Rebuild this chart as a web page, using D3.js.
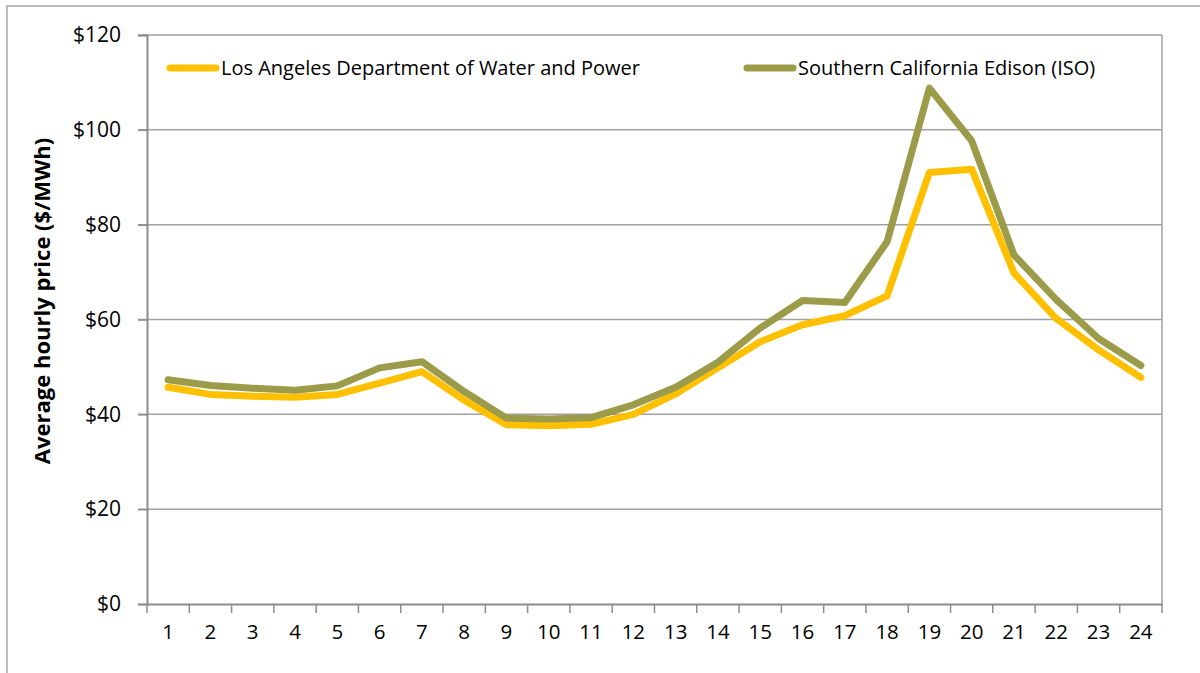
<!DOCTYPE html>
<html>
<head>
<meta charset="utf-8">
<script src="https://cdn.jsdelivr.net/npm/d3@7"></script>
<style>
  html, body { margin: 0; padding: 0; background: #fff; }
  svg { display: block; }
  svg text { font-family: "Open Sans", "Noto Sans", sans-serif; }
</style>
</head>
<body>
<div id="chart"></div>
<script>
const hours = d3.range(1, 25).map(String);
const seriesNames = ['Los Angeles Department of Water and Power', 'Southern California Edison (ISO)'];
const ladwp = [45.7, 44.2, 43.8, 43.6, 44.2, 46.6, 49.0, 43.0, 37.8, 37.6, 37.9, 40.0,
               44.3, 49.8, 55.3, 58.9, 60.8, 65.0, 91.0, 91.7, 69.8, 60.2, 53.6, 47.8];
const sce = [47.3, 46.1, 45.5, 45.1, 46.0, 49.8, 51.1, 44.8, 39.2, 39.0, 39.3, 42.0,
             45.7, 51.0, 58.2, 64.0, 63.6, 76.4, 108.8, 97.7, 73.6, 64.2, 56.0, 50.3];
const yTicks = [0, 20, 40, 60, 80, 100, 120];
const colors = ['#FFC000', '#9B9B4A'];

const svgWidth = 1200, svgHeight = 673;
const margin = { top: 35, right: 38, bottom: 69, left: 147 };
const width = svgWidth - margin.left - margin.right;
const height = svgHeight - margin.top - margin.bottom;

const svg = d3.select('#chart')
    .append('svg')
    .attr('width', svgWidth)
    .attr('height', svgHeight);

// outer chart frame
svg.append('rect')
    .attr('x', 7).attr('y', 6)
    .attr('width', svgWidth).attr('height', svgHeight)
    .style('fill', 'none')
    .style('stroke', '#a6a6a6')
    .style('stroke-width', 1.5);

const bounds = svg.append('g')
    .attr('transform', `translate(${margin.left}, ${margin.top})`);

const xScale = d3.scaleBand()
    .domain(hours)
    .range([0, width]);

const yScale = d3.scaleLinear()
    .domain([0, 120])
    .range([height, 0]);

// gridlines + y ticks
bounds.append('g')
    .selectAll('line')
    .data(yTicks.filter(d => d > 0))
    .join('line')
    .attr('x1', -9).attr('x2', width)
    .attr('y1', d => yScale(d)).attr('y2', d => yScale(d))
    .style('stroke', '#a0a0a0')
    .style('stroke-width', 1.5);

// right border of plot area
bounds.append('line')
    .attr('x1', width).attr('x2', width)
    .attr('y1', 0).attr('y2', height)
    .style('stroke', '#a0a0a0')
    .style('stroke-width', 1.5);

const yAxis = bounds.append('g')
    .call(d3.axisLeft(yScale)
        .tickValues(yTicks)
        .tickSize(9)
        .tickPadding(17)
        .tickFormat(d => `$${d}`));
yAxis.select('.domain').style('stroke', '#8c8c8c').style('stroke-width', 2);
yAxis.selectAll('.tick line').style('stroke', '#8c8c8c').style('stroke-width', 1.5);
yAxis.selectAll('text')
    .style('font-size', '21px')
    .style('fill', '#000');

// x axis: ticks at category boundaries
const xAxis = bounds.append('g')
    .attr('transform', `translate(0, ${height})`)
    .call(d3.axisBottom(xScale).tickSize(0).tickPadding(20));
xAxis.select('.domain').style('stroke', '#8c8c8c').style('stroke-width', 2);
xAxis.selectAll('text')
    .style('font-size', '20.5px')
    .style('fill', '#000');
xAxis.selectAll('.boundary')
    .data(d3.range(0, hours.length + 1))
    .join('line')
    .attr('class', 'boundary')
    .attr('x1', i => i * xScale.step())
    .attr('x2', i => i * xScale.step())
    .attr('y1', 0).attr('y2', 9)
    .style('stroke', '#8c8c8c')
    .style('stroke-width', 1.5);

// y axis title
svg.append('text')
    .attr('transform', `translate(50, 301) rotate(-90)`)
    .attr('text-anchor', 'middle')
    .style('font-size', '22px')
    .style('font-weight', 'bold')
    .text('Average hourly price ($/MWh)');

// lines
const lineGenerator = d3.line()
    .x((d, i) => xScale(hours[i]) + xScale.bandwidth() / 2)
    .y(d => yScale(d));

bounds.selectAll('.line-series')
    .data([ladwp, sce])
    .join('path')
    .attr('class', 'line-series')
    .attr('d', d => lineGenerator(d))
    .style('fill', 'none')
    .style('stroke', (d, i) => colors[i])
    .style('stroke-width', 7)
    .style('stroke-linejoin', 'round')
    .style('stroke-linecap', 'round');

// legend
const legendX = [170, 747];
const legend = svg.append('g');
const items = legend.selectAll('g')
    .data(seriesNames)
    .join('g')
    .attr('transform', (d, i) => `translate(${legendX[i]}, 68)`);
items.append('line')
    .attr('x1', 0).attr('x2', 46)
    .style('stroke', (d, i) => colors[i])
    .style('stroke-width', 7)
    .style('stroke-linecap', 'round');
items.append('text')
    .attr('x', 51)
    .attr('dy', '0.35em')
    .style('font-size', '20px')
    .text(d => d);
</script>
</body>
</html>
